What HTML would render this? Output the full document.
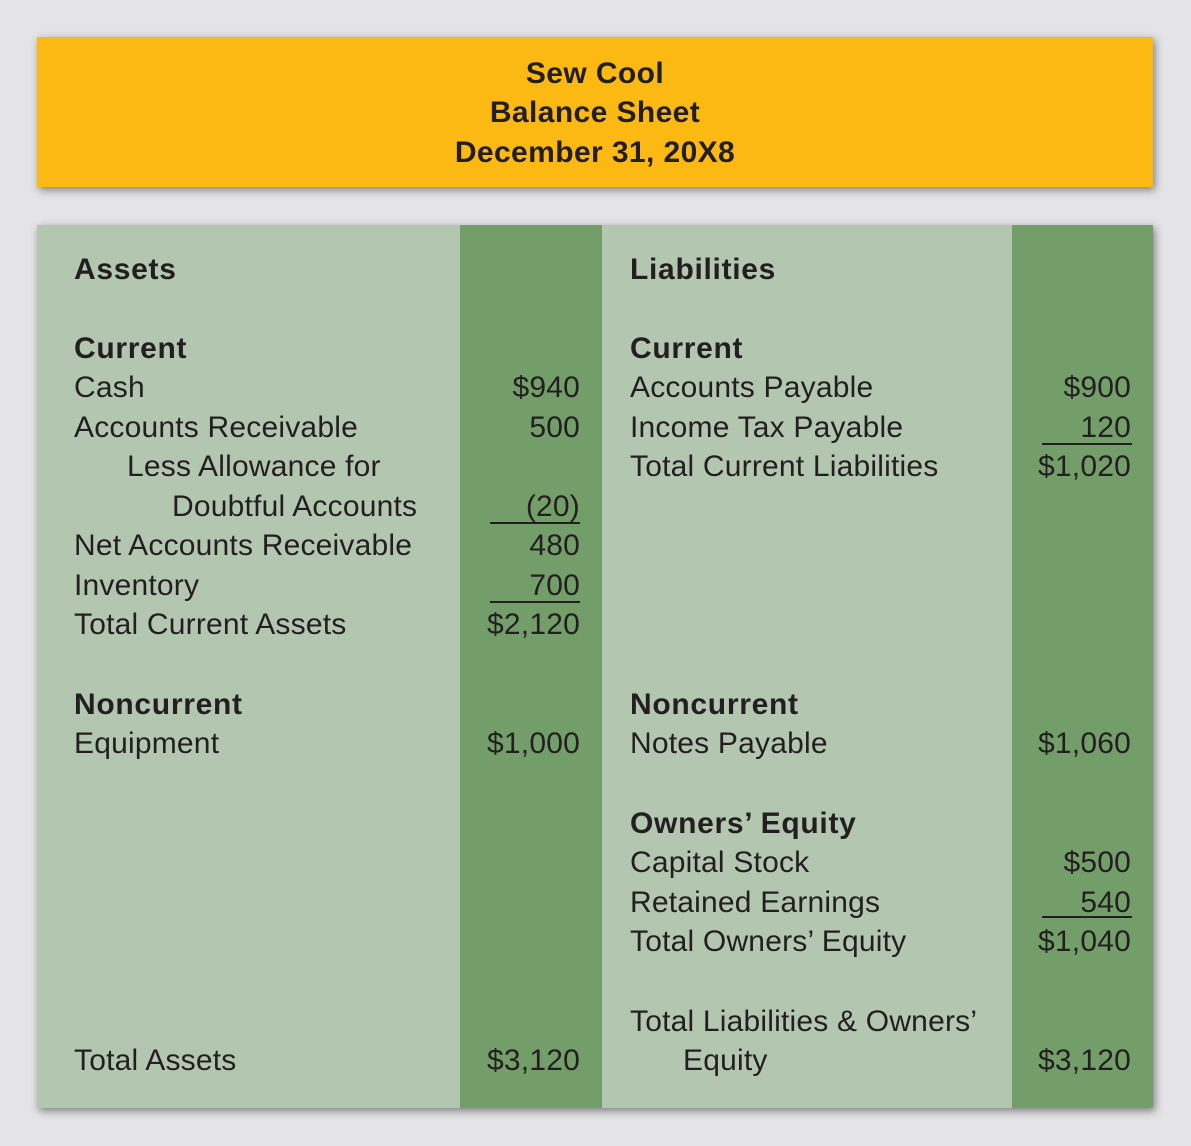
<!DOCTYPE html>
<html><head><style>
body{margin:0;width:1191px;height:1146px;background:#fff;position:relative;overflow:hidden;font-family:"Liberation Sans",sans-serif;color:#231f20}
.bg{position:absolute;left:0;top:0;width:1191px;height:1146px;background:#e4e4e7}
.hdr{position:absolute;left:37px;top:37px;width:1116px;height:150px;background:#fcb914;box-shadow:2px 3px 8px rgba(0,0,0,.45)}
.pan{position:absolute;left:37px;top:225px;width:1116px;height:883px;background:#b3c6b0;box-shadow:2px 3px 8px rgba(0,0,0,.45)}
.dk{position:absolute;top:225px;height:883px;background:#739e6a}
.t{position:absolute;font-size:30px;line-height:40px;white-space:nowrap;letter-spacing:0.2px;margin-top:2px}
.b{font-weight:bold;letter-spacing:0.7px}
.r{text-align:right}
.h{position:absolute;left:37px;width:1116px;text-align:center;font-weight:bold;font-size:30px;line-height:40px;letter-spacing:0.4px;margin-top:1px}
.u{position:absolute;height:2px;background:#231f20}
</style></head><body>
<div class="bg"></div>
<div class="hdr"></div>
<div class="h" style="top:53px">Sew Cool</div>
<div class="h" style="top:92px">Balance Sheet</div>
<div class="h" style="top:132px">December 31, 20X8</div>
<div class="pan"></div>
<div class="dk" style="left:460px;width:142px"></div>
<div class="dk" style="left:1012px;width:141px"></div>

<div class="t b" style="left:74px;top:248px">Assets</div>
<div class="t b" style="left:74px;top:327px">Current</div>
<div class="t" style="left:74px;top:366px">Cash</div>
<div class="t" style="left:74px;top:406px">Accounts Receivable</div>
<div class="t" style="left:127px;top:445px">Less Allowance for</div>
<div class="t" style="left:172px;top:485px">Doubtful Accounts</div>
<div class="t" style="left:74px;top:524px">Net Accounts Receivable</div>
<div class="t" style="left:74px;top:564px">Inventory</div>
<div class="t" style="left:74px;top:603px">Total Current Assets</div>
<div class="t b" style="left:74px;top:683px">Noncurrent</div>
<div class="t" style="left:74px;top:722px">Equipment</div>
<div class="t" style="left:74px;top:1039px">Total Assets</div>

<div class="t r" style="right:611px;top:366px">$940</div>
<div class="t r" style="right:611px;top:406px">500</div>
<div class="t r" style="right:611px;top:485px">(20)</div>
<div class="u" style="left:490px;width:90px;top:522px"></div>
<div class="t r" style="right:611px;top:524px">480</div>
<div class="t r" style="right:611px;top:564px">700</div>
<div class="u" style="left:490px;width:90px;top:601px"></div>
<div class="t r" style="right:611px;top:603px">$2,120</div>
<div class="t r" style="right:611px;top:722px">$1,000</div>
<div class="t r" style="right:611px;top:1039px">$3,120</div>

<div class="t b" style="left:630px;top:248px">Liabilities</div>
<div class="t b" style="left:630px;top:327px">Current</div>
<div class="t" style="left:630px;top:366px">Accounts Payable</div>
<div class="t" style="left:630px;top:406px">Income Tax Payable</div>
<div class="t" style="left:630px;top:445px">Total Current Liabilities</div>
<div class="t b" style="left:630px;top:683px">Noncurrent</div>
<div class="t" style="left:630px;top:722px">Notes Payable</div>
<div class="t b" style="left:630px;top:802px">Owners’ Equity</div>
<div class="t" style="left:630px;top:841px">Capital Stock</div>
<div class="t" style="left:630px;top:881px">Retained Earnings</div>
<div class="t" style="left:630px;top:920px">Total Owners’ Equity</div>
<div class="t" style="left:630px;top:1000px">Total Liabilities &amp; Owners’</div>
<div class="t" style="left:683px;top:1039px">Equity</div>

<div class="t r" style="right:60px;top:366px">$900</div>
<div class="t r" style="right:60px;top:406px">120</div>
<div class="u" style="left:1042px;width:90px;top:443px"></div>
<div class="t r" style="right:60px;top:445px">$1,020</div>
<div class="t r" style="right:60px;top:722px">$1,060</div>
<div class="t r" style="right:60px;top:841px">$500</div>
<div class="t r" style="right:60px;top:881px">540</div>
<div class="u" style="left:1042px;width:90px;top:916px"></div>
<div class="t r" style="right:60px;top:920px">$1,040</div>
<div class="t r" style="right:60px;top:1039px">$3,120</div>
</body></html>
